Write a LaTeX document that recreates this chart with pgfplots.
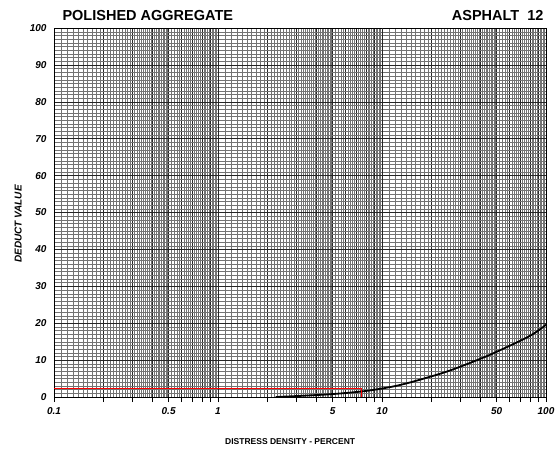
\documentclass[border=0pt]{standalone}
\usepackage{fontspec}
\setmainfont{Liberation Sans}
\usepackage{pgfplots}
\pgfplotsset{compat=1.18}
\begin{document}
\begin{tikzpicture}[x=1pt,y=1pt]
\useasboundingbox (-54pt,-54pt) rectangle (502pt,397pt);
\begin{axis}[
  at={(0pt,0pt)}, anchor=south west,
  scale only axis, width=492pt, height=369pt,
  xmode=log, xmin=0.1, xmax=100, ymin=0, ymax=100,
  axis line style={black, line width=0.8pt},
  xtick={0.1,0.2,0.3,0.4,0.5,0.6,0.7,0.8,0.9,1,2,3,4,5,6,7,8,9,10,20,30,40,50,60,70,80,90,100},
  xticklabels={0.1,,,,0.5,,,,,1,,,,5,,,,,10,,,,50,,,,,100},
  minor xtick={0.11,0.12,0.13,0.14,0.15,0.16,0.17,0.18,0.19,
    0.21,0.22,0.23,0.24,0.25,0.26,0.27,0.28,0.29,
    0.31,0.32,0.33,0.34,0.35,0.36,0.37,0.38,0.39,
    0.41,0.42,0.43,0.44,0.45,0.46,0.47,0.48,0.49,
    0.52,0.54,0.56,0.58,
    0.62,0.64,0.66,0.68,
    0.72,0.74,0.76,0.78,
    0.82,0.84,0.86,0.88,
    0.92,0.94,0.96,0.98,
    1.1,1.2,1.3,1.4,1.5,1.6,1.7,1.8,1.9,
    2.1,2.2,2.3,2.4,2.5,2.6,2.7,2.8,2.9,
    3.1,3.2,3.3,3.4,3.5,3.6,3.7,3.8,3.9,
    4.1,4.2,4.3,4.4,4.5,4.6,4.7,4.8,4.9,
    5.2,5.4,5.6,5.8,
    6.2,6.4,6.6,6.8,
    7.2,7.4,7.6,7.8,
    8.2,8.4,8.6,8.8,
    9.2,9.4,9.6,9.8,
    11,12,13,14,15,16,17,18,19,
    21,22,23,24,25,26,27,28,29,
    31,32,33,34,35,36,37,38,39,
    41,42,43,44,45,46,47,48,49,
    52,54,56,58,
    62,64,66,68,
    72,74,76,78,
    82,84,86,88,
    92,94,96,98},
  ytick={0,10,...,100},
  minor y tick num=9,
  grid=both,
  major grid style={black!85, line width=0.55pt},
  minor grid style={black!55, line width=0.3pt},
  extra x ticks={1,10},
  extra x tick labels={},
  extra x tick style={grid style={black, line width=1pt}},
  tick align=outside,
  xtick pos=bottom,
  ytick pos=left,
  xtick style={black, line width=0.6pt},
  ytick style={draw=none},
  minor tick length=0pt,
  major tick length=5pt,
  /pgf/number format/assume math mode=true,
  xticklabel style={font=\bfseries\itshape\fontsize{10}{10}\selectfont, yshift=-2pt},
  yticklabel style={font=\bfseries\itshape\fontsize{10}{10}\selectfont, xshift=1pt},
  xlabel={DISTRESS DENSITY - PERCENT},
  xlabel style={at={(axis description cs:0.48,-0.122)}, anchor=center, font=\bfseries\fontsize{8.5}{10}\selectfont},
  ylabel={DEDUCT VALUE},
  ylabel style={at={(axis description cs:-0.073,0.469)}, anchor=center, rotate=0, font=\bfseries\itshape\fontsize{10}{10}\selectfont},
]
\addplot[black, line width=1.8pt, smooth, tension=0.6] coordinates {
  (2.25,0) (3.16,0.3) (5,0.8) (7.5,1.5) (10,2.3) (13,3.3) (18,5.0) (26,7.2) (40,10.4) (52,12.6) (80,16.6) (100,19.6)
};
\addplot[red, line width=1.2pt] coordinates {(0.1,2.2) (7.5,2.2) (7.5,0)};
\end{axis}
\node[anchor=west, font=\bfseries\fontsize{14.5}{14}\selectfont] at (5pt,381pt) {POLISHED AGGREGATE};
\node[anchor=east, font=\bfseries\fontsize{14.5}{14}\selectfont] at (493pt,381pt) {ASPHALT\ \ 12};
\end{tikzpicture}
\end{document}
